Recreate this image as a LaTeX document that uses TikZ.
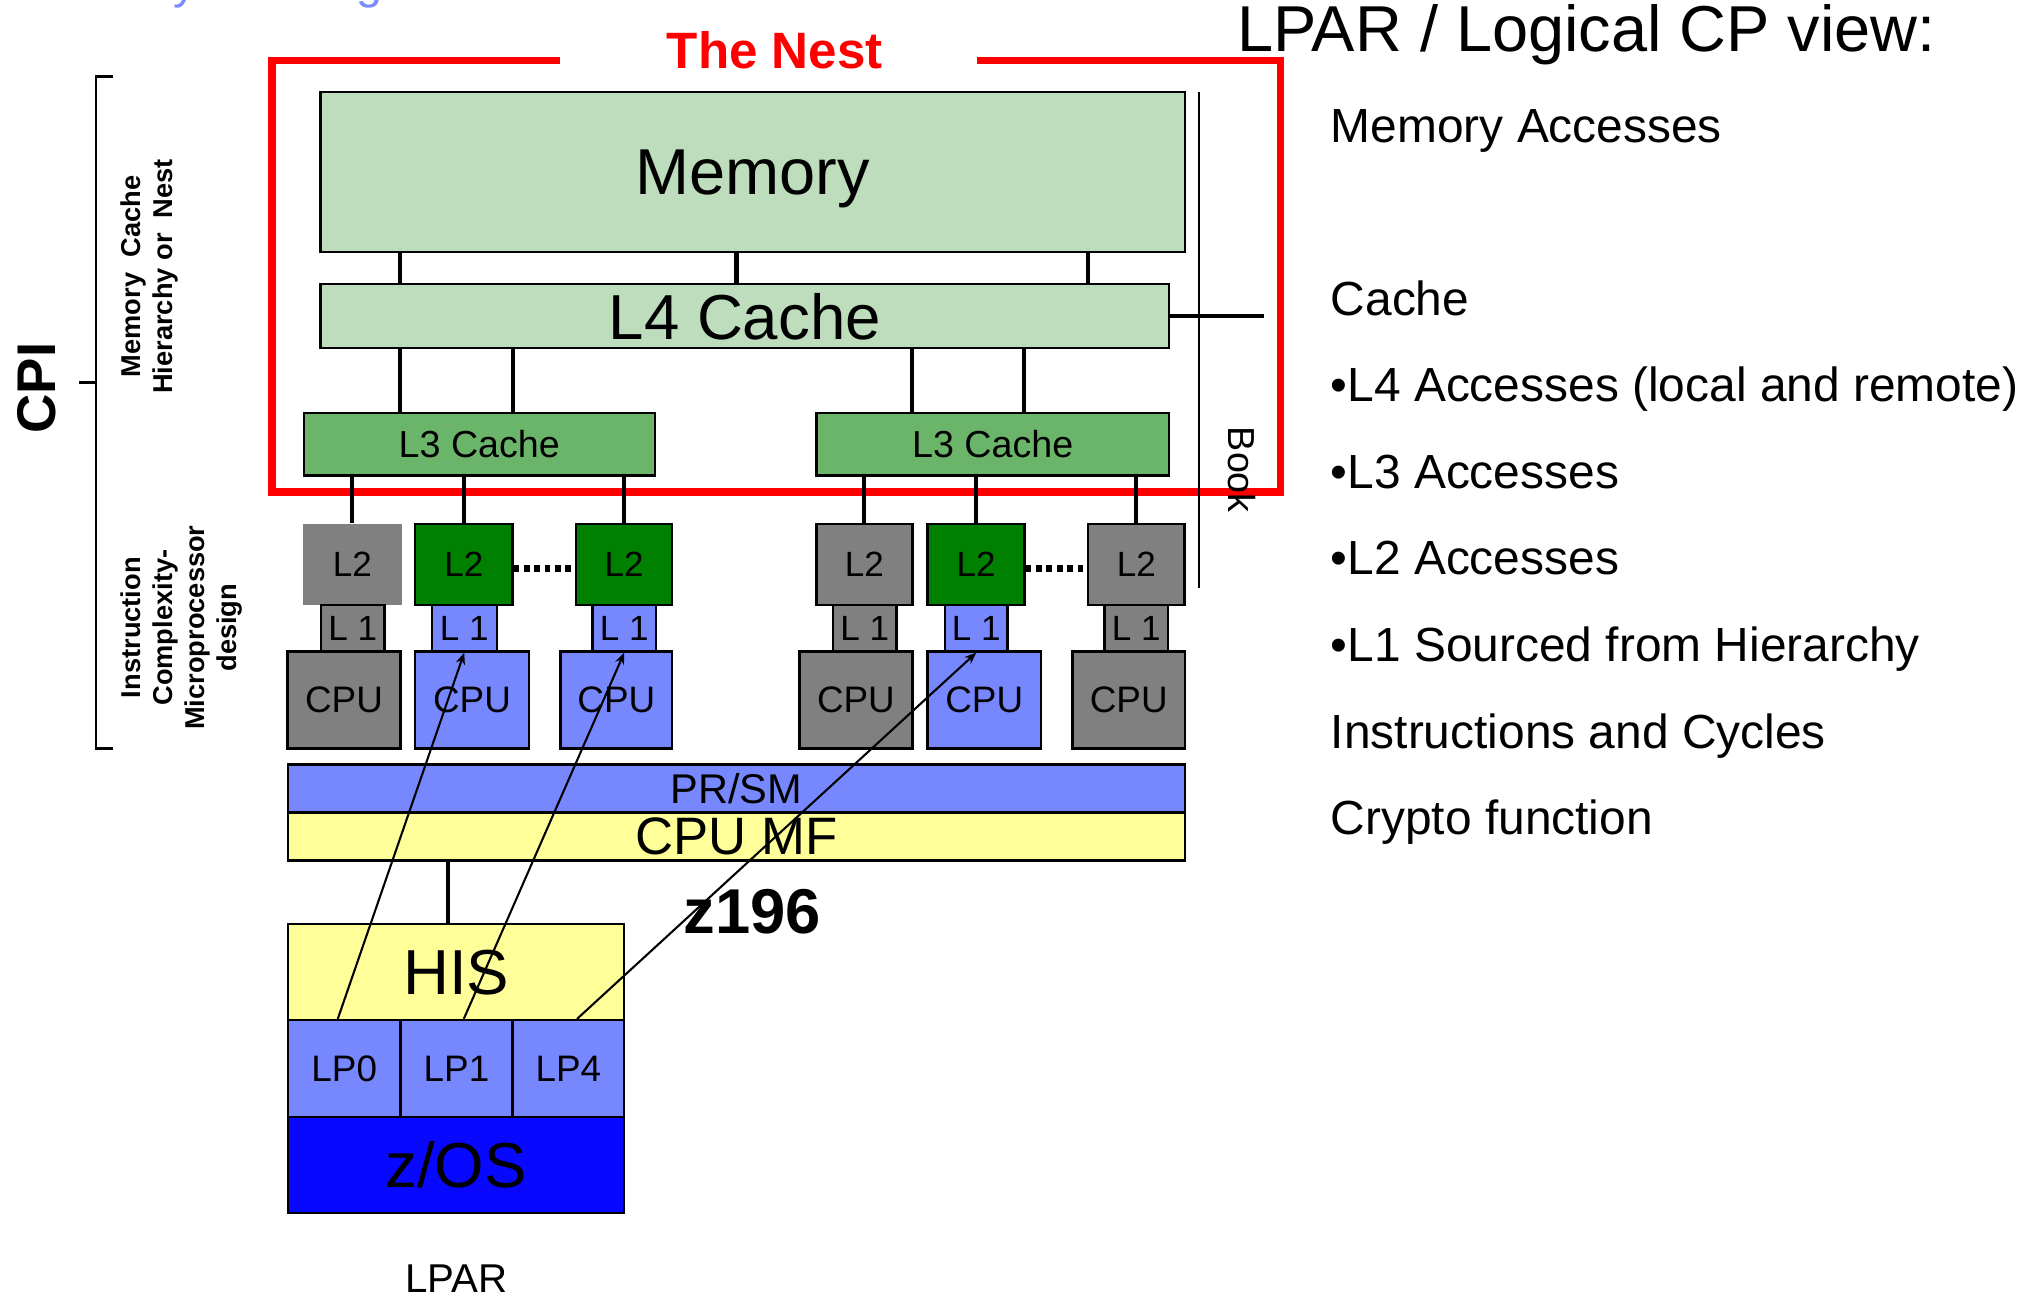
\documentclass[tikz,border=0pt]{standalone}
\usepackage{fontspec}
\setmainfont{Liberation Sans}
\usetikzlibrary{fit,arrows.meta}
\definecolor{memgreen}{RGB}{189,221,189}
\definecolor{lthreegreen}{RGB}{107,181,107}
\definecolor{ltwogreen}{RGB}{0,128,0}
\definecolor{boxgray}{RGB}{128,128,128}
\definecolor{cpublue}{RGB}{119,136,255}
\definecolor{mfyellow}{RGB}{255,255,153}
\definecolor{zosblue}{RGB}{8,8,255}
\definecolor{nestred}{RGB}{255,0,0}
\definecolor{titleblue}{RGB}{120,140,255}
\begin{document}
\begin{tikzpicture}[x=0.5pt,y=-0.5pt,
  box/.style={draw=black,line width=0.9pt,inner sep=0pt},
  conn/.style={line width=1.6pt},
  fsz/.style={font=\fontsize{#1}{#1}\selectfont},
  txt/.style 2 args={label={[fsz=#1,text depth=0pt,inner sep=0pt]center:#2}},
  arr/.style={-{Stealth[length=4.5pt,width=3.6pt]},line width=0.8pt},
  rt/.style={anchor=base west,inner sep=0pt,font=\fontsize{18.45}{20}\selectfont},
  rotlabel/.style={inner sep=0pt,align=center,font=\bfseries\fontsize{10.5}{12.4}\selectfont}]
\useasboundingbox (0,0) rectangle (1568,1000);

% partial title at the top edge
\begin{scope}
\clip (0,0) rectangle (1568,1000);
\node[text=titleblue,fsz=18,anchor=base,inner sep=0pt] (ty) at (143,-1) {y};
\node[text=titleblue,fsz=18,anchor=base,inner sep=0pt] (tg) at (285,-1) {g};
\end{scope}

% The Nest frame
\draw[nestred,line width=2.8pt] (431.6,46.5) -- (209.5,46.5) -- (209.5,379) -- (986.5,379) -- (986.5,46.5) -- (752.8,46.5);
\node[text=nestred,font=\bfseries\fontsize{19.7}{20}\selectfont,anchor=base,inner sep=0pt] (nest) at (597,52.6) {The Nest};

% Nest boxes
\node[box,fill=memgreen,fit={(247,71)(912.8,194.3)},txt={25}{Memory}] (mem) {};
\node[box,fill=memgreen,fit={(247,219)(900.8,268)},txt={24.5}{L4 Cache}] (l4) {};
\node[box,fill=lthreegreen,fit={(234,318)(504.6,366.5)},txt={14.5}{L3 Cache}] (l3a) {};
\node[box,fill=lthreegreen,fit={(629,318)(900.8,366.5)},txt={14.5}{L3 Cache}] (l3b) {};

% L2
\node[box,draw=none,fill=boxgray,fit={(233.6,404)(309.4,466)},txt={13.5}{L2}] (l2a) {};
\node[box,fill=ltwogreen,fit={(320,404)(394.8,466)},txt={13.5}{L2}] (l2b) {};
\node[box,fill=ltwogreen,fit={(443.8,404)(518,466)},txt={13.5}{L2}] (l2c) {};
\node[box,fill=boxgray,fit={(629,404)(703,466)},txt={13.5}{L2}] (l2d) {};
\node[box,fill=ltwogreen,fit={(714.7,404)(789.4,466)},txt={13.5}{L2}] (l2e) {};
\node[box,fill=boxgray,fit={(838.4,404)(912.7,466)},txt={13.5}{L2}] (l2f) {};

% L1
\node[box,fill=boxgray,fit={(247.4,466)(296.3,502)},txt={13.5}{L 1}] (l1a) {};
\node[box,fill=cpublue,fit={(332.7,466)(382.7,502)},txt={13.5}{L 1}] (l1b) {};
\node[box,fill=cpublue,fit={(456.5,466)(505.5,502)},txt={13.5}{L 1}] (l1c) {};
\node[box,fill=boxgray,fit={(641.8,466)(690.8,502)},txt={13.5}{L 1}] (l1d) {};
\node[box,fill=cpublue,fit={(728,466)(776.4,502)},txt={13.5}{L 1}] (l1e) {};
\node[box,fill=boxgray,fit={(851,466)(900,502)},txt={13.5}{L 1}] (l1f) {};

% CPU
\node[box,fill=boxgray,fit={(221.6,502)(308.5,576.6)},txt={14.2}{CPU}] (cpua) {};
\node[box,fill=cpublue,fit={(320,502)(407.4,576.6)},txt={14.2}{CPU}] (cpub) {};
\node[box,fill=cpublue,fit={(431.8,502)(518,576.6)},txt={14.2}{CPU}] (cpuc) {};
\node[box,fill=boxgray,fit={(616,502)(703,576.6)},txt={14.2}{CPU}] (cpud) {};
\node[box,fill=cpublue,fit={(714.7,502)(802,576.6)},txt={14.2}{CPU}] (cpue) {};
\node[box,fill=boxgray,fit={(826.4,502)(913,576.6)},txt={14.2}{CPU}] (cpuf) {};

% PR/SM and CPU MF
\node[box,fill=cpublue,fit={(222,589)(912.8,626)},txt={16}{PR/SM}] (prsm) {};
\node[box,fill=mfyellow,fit={(222,626)(912.8,663)},txt={20.3}{CPU MF}] (cpumf) {};

% LPAR stack
\node[box,fill=mfyellow,fit={(222,712)(481,786)},txt={24.5}{HIS}] (his) {};
\node[box,fill=cpublue,fit={(222,786)(308.5,860.5)},txt={14.2}{LP0}] (lp0) {};
\node[box,fill=cpublue,fit={(308.5,786)(395,860.5)},txt={14.2}{LP1}] (lp1) {};
\node[box,fill=cpublue,fit={(395,786)(481,860.5)},txt={14.2}{LP4}] (lp4) {};
\node[box,fill=zosblue,fit={(222,860.5)(481,934.4)},txt={24.5}{z/OS}] (zos) {};
\node[anchor=base,inner sep=0pt,fsz=15.5] (lpar) at (351.5,996) {LPAR};
\node[anchor=base,inner sep=0pt,font=\bfseries\fontsize{24.4}{25}\selectfont] (z196) at (579.6,719) {z196};

% connectors
\foreach \x in {308,567.5,838.5} \draw[conn] (\x,0 |- mem.south) -- (\x,0 |- l4.north);
\foreach \x in {308,395} \draw[conn] (\x,0 |- l4.south) -- (\x,0 |- l3a.north);
\foreach \x in {703,789} \draw[conn] (\x,0 |- l4.south) -- (\x,0 |- l3b.north);
\foreach \n in {l2a,l2b,l2c} \draw[conn] (\n.north |- l3a.south) -- (\n.north);
\foreach \n in {l2d,l2e,l2f} \draw[conn] (\n.north |- l3b.south) -- (\n.north);
\draw[line width=2.5pt,dash pattern=on 2.2pt off 1.8pt] ([yshift=-1.5pt]l2b.east) -- ([yshift=-1.5pt]l2c.west);
\draw[line width=2.5pt,dash pattern=on 2.2pt off 1.8pt] ([yshift=-1.5pt]l2e.east) -- ([yshift=-1.5pt]l2f.west);
\draw[conn] (345,0 |- cpumf.south) -- (345,0 |- his.north);

% Book
\coordinate (l4end) at (974,243.5);
\draw[conn] (l4.east) -- (l4end);
\coordinate (booktop) at (924,71);
\coordinate (bookbot) at (924,453);
\draw[line width=0.6pt] (booktop) -- (bookbot);
\node[rotate=-90,inner sep=0pt,fsz=14.5] (book) at (957,362) {Book};

% left bracket and labels
\coordinate (brt) at (86.7,59);
\coordinate (brtl) at (74,59);
\coordinate (brbl) at (74,576.6);
\coordinate (brb) at (86.7,576.6);
\coordinate (brm) at (74,294.6);
\coordinate (brml) at (61,294.6);
\draw[line width=1pt] (brt) -- (brtl) -- (brbl) -- (brb);
\draw[line width=1pt] (brm) -- (brml);
\node[rotate=90,inner sep=0pt,font=\bfseries\fontsize{21}{22}\selectfont] (cpi) at (28,299) {CPI};
\node[rotate=90,rotlabel] (nestlbl) at (115,213) {Memory\ \ Cache\\Hierarchy or\ \ Nest};
\node[rotate=90,rotlabel] (instr) at (139.8,483.6) {Instruction\\Complexity-\\Microprocessor\\design};

% right text
\node[anchor=base west,inner sep=0pt,fsz=25] (title) at (953,39.8) {LPAR / Logical CP view:};
\node[rt] (t1) at (1025,109.6) {Memory Accesses};
\node[rt] (t2) at (1025,243) {Cache};
\node[rt] (t3) at (1025,309.7) {•L4 Accesses (local and remote)};
\node[rt] (t4) at (1025,376.4) {•L3 Accesses};
\node[rt] (t5) at (1025,443) {•L2 Accesses};
\node[rt] (t6) at (1025,509.8) {•L1 Sourced from Hierarchy};
\node[rt] (t7) at (1025,576.5) {Instructions and Cycles};
\node[rt] (t8) at (1025,643) {Crypto function};

% arrows from logical CPs to L1
\draw[arr] ([xshift=-2.5pt]lp0.north) -- (l1b.south);
\draw[arr] ([xshift=2.8pt]lp1.north) -- (l1c.south);
\draw[arr] ([xshift=3.3pt]lp4.north) -- (l1e.south);
\end{tikzpicture}
\end{document}
